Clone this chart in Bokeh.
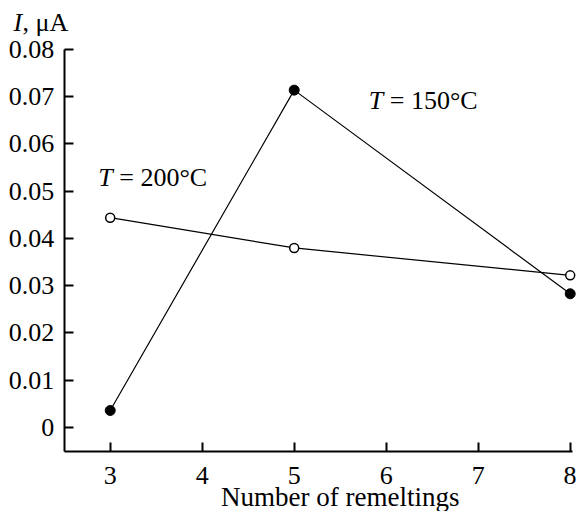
from bokeh.plotting import figure
from bokeh.models import FixedTicker, Label
from bokeh.embed import file_html
from bokeh.resources import INLINE

remeltings = [3, 5, 8]
current_150 = [0.0036, 0.0714, 0.0283]
current_200 = [0.0444, 0.0380, 0.0322]

x_ticks = [3, 4, 5, 6, 7, 8]
y_ticks = [0, 0.01, 0.02, 0.03, 0.04, 0.05, 0.06, 0.07, 0.08]
y_tick_labels = ["0", "0.01", "0.02", "0.03", "0.04", "0.05", "0.06", "0.07", "0.08"]

X_AXIS_START, X_AXIS_END = 2.5, 8.02
Y_AXIS_START, Y_AXIS_END = -0.0051, 0.08

FONT = "Liberation Serif"
FS = "26px"

# The frame spans the whole canvas; axes are pinned inside it so that
# the outer titles (drawn as labels) are not clipped.
p = figure(width=576, height=511, x_range=(1.8076, 8.0685), y_range=(-0.01778, 0.09037),
           output_backend="svg", toolbar_location=None,
           min_border_left=0, min_border_right=0, min_border_top=0, min_border_bottom=0)
p.outline_line_color = None
p.xgrid.visible = False
p.ygrid.visible = False

xa = p.xaxis[0]
ya = p.yaxis[0]
xa.fixed_location = Y_AXIS_START
xa.bounds = (X_AXIS_START, X_AXIS_END)
ya.fixed_location = X_AXIS_START
ya.bounds = (Y_AXIS_START, Y_AXIS_END)

for ax in (xa, ya):
    ax.axis_line_width = 2
    ax.axis_line_color = "black"
    ax.major_tick_line_width = 2
    ax.major_tick_line_color = "black"
    ax.major_tick_in = 9
    ax.major_tick_out = 0
    ax.minor_tick_line_color = None
    ax.major_label_text_font = FONT
    ax.major_label_text_font_size = FS
    ax.major_label_text_color = "black"

xa.ticker = FixedTicker(ticks=x_ticks)
ya.ticker = FixedTicker(ticks=y_ticks)
ya.major_label_overrides = {t: l for t, l in zip(y_ticks, y_tick_labels)}
xa.major_label_standoff = 15
ya.major_label_standoff = 10

p.line(remeltings, current_150, line_color="black", line_width=1.2)
p.line(remeltings, current_200, line_color="black", line_width=1.2)
p.scatter(remeltings, current_150, size=10, fill_color="black", line_color="black")
p.scatter(remeltings, current_200, size=9, fill_color="white", line_color="black", line_width=1.5)

def add_label(x, y, text, italic=False, xoff=0, size=FS, align="left"):
    p.add_layout(Label(x=x, y=y, text=text, x_offset=xoff, text_font=FONT,
                       text_font_size=size, text_color="black", text_align=align,
                       text_font_style="italic" if italic else "normal",
                       text_baseline="alphabetic"))

# axis titles
add_label(1.95, 0.0857, "I", italic=True)
add_label(1.95, 0.0857, ", \u03bcA", xoff=9)
add_label(5.5, -0.0148, "Number of remeltings", size="27px", align="center")

# series annotations
add_label(5.81, 0.0692, "T", italic=True)
add_label(5.81, 0.0692, "= 150\u00b0C", xoff=21)
add_label(2.87, 0.0529, "T", italic=True)
add_label(2.87, 0.0529, "= 200\u00b0C", xoff=21)

open("out.html", "w").write(file_html(p, INLINE))
